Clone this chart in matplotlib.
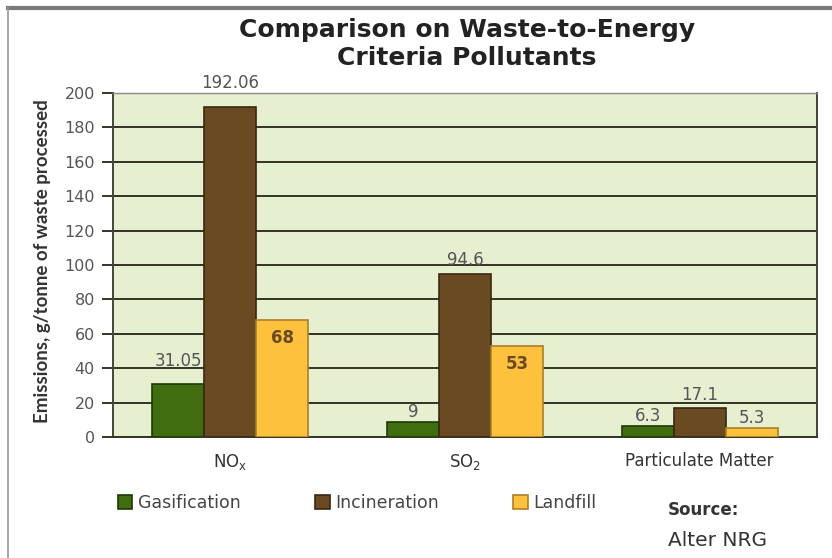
import numpy as np
import matplotlib
matplotlib.use('Agg')
import matplotlib.pyplot as plt
from matplotlib.lines import Line2D

# data
categories = ['NO$_\\mathregular{x}$', 'SO$_\\mathregular{2}$', 'Particulate Matter']
series = ['Gasification', 'Incineration', 'Landfill']
gasification = [31.05, 9, 6.3]
incineration = [192.06, 94.6, 17.1]
landfill = [68, 53, 5.3]
value_text = [['31.05', '9', '6.3'], ['192.06', '94.6', '17.1'], ['68', '53', '5.3']]
yticks = [0, 20, 40, 60, 80, 100, 120, 140, 160, 180, 200]

colors = ['#3f6d10', '#6a4a22', '#fdc13e']
edges = ['#1f3a05', '#3a2810', '#a8802a']

plt.rcParams['font.family'] = ['DejaVu Sans']

fig = plt.figure(figsize=(8.32, 5.58), dpi=100)
ax = fig.add_axes([113 / 832, 1 - 437 / 558, (817 - 113) / 832, (437 - 93) / 558])
ax.set_facecolor('#e7efd1')

x = np.arange(len(categories))
w = 0.222
values = [gasification, incineration, landfill]
bars = []
for i, vals in enumerate(values):
    b = ax.bar(x + (i - 1) * w, vals, width=w, color=colors[i], edgecolor=edges[i],
               linewidth=1.2, zorder=3, label=series[i])
    bars.append(b)

# value labels (pixel offsets above / inside bars)
offsets = [[16, 7, 7], [17, 10, 9], [-13, -13, 7]]
for i, vals in enumerate(values):
    for j, v in enumerate(vals):
        inside = offsets[i][j] < 0
        ax.annotate(value_text[i][j], (x[j] + (i - 1) * w, v),
                    xytext=(0, offsets[i][j]), textcoords='offset points',
                    ha='center', va='center', fontsize=12,
                    color='#6a4a22' if inside else '#555555',
                    fontweight='bold' if inside else 'normal', zorder=5)

ax.set_xlim(-0.5, 2.5)
ax.set_ylim(0, 200)
ax.set_yticks(yticks)
ax.set_yticklabels([str(t) for t in yticks], fontsize=11.5, color='#555555')
ax.grid(axis='y', color='#333326', linewidth=1.4, zorder=1)
ax.tick_params(axis='y', length=8, width=1.4, color='#333326', pad=5)
ax.set_xticks(x)
ax.set_xticklabels(categories, fontsize=12, color='#333333')
ax.tick_params(axis='x', length=0, pad=11)

for s in ['left', 'right']:
    ax.spines[s].set_color('#444438')
    ax.spines[s].set_linewidth(1.4)
ax.spines['top'].set_color('#888888')
ax.spines['top'].set_linewidth(1.0)
ax.spines['bottom'].set_color('#333326')
ax.spines['bottom'].set_linewidth(1.4)

ax.set_ylabel('Emissions, g/tonne of waste processed', fontsize=13.5, color='#333333',
              family='Lato', fontweight='bold')
ax.yaxis.set_label_coords(-0.088, 0.51)

fig.text(467 / 832, 1 - 30 / 558, 'Comparison on Waste-to-Energy', ha='center', va='center',
         fontsize=18, fontweight='bold', color='#222222')
fig.text(467 / 832, 1 - 58 / 558, 'Criteria Pollutants', ha='center', va='center',
         fontsize=18, fontweight='bold', color='#222222')

# legend
leg = fig.legend(handles=[b for b in bars], labels=series, loc='center left',
                 bbox_to_anchor=(102 / 832, 1 - 503 / 558), ncol=3, frameon=False,
                 handlelength=0.85, handleheight=0.85, handletextpad=0.3,
                 columnspacing=4.3, fontsize=12.5)
for t in leg.get_texts():
    t.set_color('#444444')

fig.text(668 / 832, 1 - 510 / 558, 'Source:', fontsize=12, fontweight='bold', color='#333333', va='center')
fig.text(668 / 832, 1 - 540 / 558, 'Alter NRG', fontsize=14.5, color='#333333', va='center')

# frame around chart
fig.add_artist(Line2D([8 / 832, 1], [1 - 8 / 558, 1 - 8 / 558], color='#7a7a7a', linewidth=3, transform=fig.transFigure))
fig.add_artist(Line2D([8 / 832, 8 / 832], [0, 1 - 8 / 558], color='#9a9a9a', linewidth=1.2, transform=fig.transFigure))

fig.savefig('out.png', dpi=100)
